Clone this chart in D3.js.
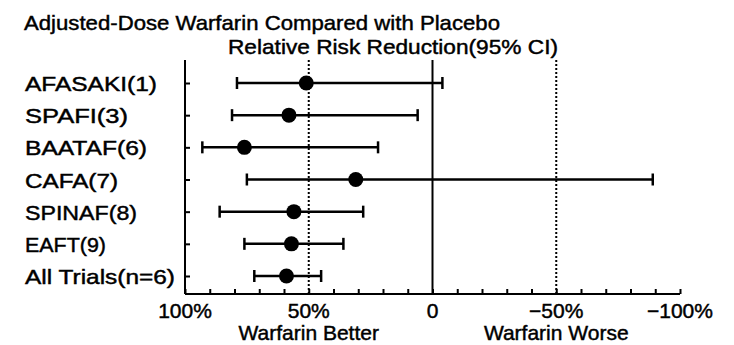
<!DOCTYPE html>
<html>
<head>
<meta charset="utf-8">
<script src="https://cdn.jsdelivr.net/npm/d3@7"></script>
<style>
  html, body { margin: 0; padding: 0; background: #fff; }
  svg { display: block; }
  text { font-family: "Liberation Sans", Arial, Helvetica, sans-serif; fill: #000; stroke: #000; stroke-width: 0.45px; }
</style>
</head>
<body>
<svg id="chart" width="734" height="345"></svg>
<script>
// ---- data ----
const trials   = ["AFASAKI(1)", "SPAFI(3)", "BAATAF(6)", "CAFA(7)", "SPINAF(8)", "EAFT(9)", "All Trials(n=6)"];
const rrr      = [51, 58, 76, 31, 56, 57, 59];      // relative risk reduction, %
const ciLow    = [79, 81, 93, 75, 86, 76, 72];      // favourable end of 95% CI
const ciHigh   = [-4, 6, 22, -89, 28, 36, 45];      // unfavourable end of 95% CI
const tickVals = [100, 50, 0, -50, -100];
const tickText = ["100%", "50%", "0", "\u221250%", "\u2212100%"];
const labelWidths = [132, 103, 122, 93, 112, 81, 150];

const title = "Adjusted-Dose Warfarin Compared with Placebo";
const subtitle = "Relative Risk Reduction(95% CI)";
const sideLabels = ["Warfarin Better", "Warfarin Worse"];
const sideAt = [50, -50];

// ---- layout ----
const svg = d3.select("#chart");
const plotTop = 60, plotBottom = 294;
const x = d3.scaleLinear().domain([100, -100]).range([185, 680]);
const y = d3.scalePoint().domain(trials).range([83, 276]);

svg.append("rect").attr("width", 734).attr("height", 345).attr("fill", "#fff");

// titles
svg.append("text").attr("x", 24).attr("y", 30).attr("font-size", 21)
  .attr("textLength", 476).attr("lengthAdjust", "spacingAndGlyphs").text(title);
svg.append("text").attr("x", 228).attr("y", 54).attr("font-size", 21)
  .attr("textLength", 330).attr("lengthAdjust", "spacingAndGlyphs").text(subtitle);

// reference lines
svg.selectAll("line.dot").data(sideAt).enter().append("line")
  .attr("x1", d => x(d)).attr("x2", d => x(d))
  .attr("y1", plotTop).attr("y2", plotBottom)
  .attr("stroke", "#000").attr("stroke-width", 2).attr("stroke-dasharray", "2,2");
svg.append("line").attr("x1", x(0)).attr("x2", x(0)).attr("y1", plotTop).attr("y2", plotBottom)
  .attr("stroke", "#000").attr("stroke-width", 2);

// axes
const xAxis = d3.axisBottom(x).tickValues(d3.range(100, -101, -10)).tickSize(-5).tickFormat("");
const gx = svg.append("g").attr("transform", `translate(0,${plotBottom})`).call(xAxis);
gx.select(".domain").attr("stroke-width", 2).attr("d", `M${x(100)},0H${x(-100)}`);
gx.selectAll(".tick line").attr("stroke-width", 2);

const yAxis = d3.axisLeft(y).tickSize(-5).tickFormat("");
const gy = svg.append("g").attr("transform", `translate(${x(100)},0)`).call(yAxis);
gy.select(".domain").attr("stroke-width", 2).attr("d", `M0,${plotTop}V${plotBottom}`);
gy.selectAll(".tick line").attr("stroke-width", 2);

// tick labels
svg.selectAll("text.tl").data(tickVals).enter().append("text")
  .attr("x", d => x(d)).attr("y", 318).attr("text-anchor", "middle").attr("font-size", 21)
  .text((d, i) => tickText[i]);

// side labels
svg.selectAll("text.sl").data(sideAt).enter().append("text")
  .attr("x", d => x(d)).attr("y", 340).attr("text-anchor", "middle").attr("font-size", 21)
  .text((d, i) => sideLabels[i]);

// row labels
svg.selectAll("text.rl").data(trials).enter().append("text")
  .attr("x", 25).attr("y", d => y(d) + 8).attr("font-size", 21)
  .attr("textLength", (d, i) => labelWidths[i]).attr("lengthAdjust", "spacingAndGlyphs")
  .text(d => d);

// whiskers
const rows = svg.selectAll("g.row").data(trials).enter().append("g");
rows.append("line")
  .attr("x1", (d, i) => x(ciLow[i])).attr("x2", (d, i) => x(ciHigh[i]))
  .attr("y1", d => y(d)).attr("y2", d => y(d))
  .attr("stroke", "#000").attr("stroke-width", 2.5);
rows.append("line")
  .attr("x1", (d, i) => x(ciLow[i])).attr("x2", (d, i) => x(ciLow[i]))
  .attr("y1", d => y(d) - 6).attr("y2", d => y(d) + 6)
  .attr("stroke", "#000").attr("stroke-width", 2.5);
rows.append("line")
  .attr("x1", (d, i) => x(ciHigh[i])).attr("x2", (d, i) => x(ciHigh[i]))
  .attr("y1", d => y(d) - 6).attr("y2", d => y(d) + 6)
  .attr("stroke", "#000").attr("stroke-width", 2.5);
rows.append("circle")
  .attr("cx", (d, i) => x(rrr[i])).attr("cy", d => y(d)).attr("r", 7.5)
  .attr("fill", "#000");
</script>
</body>
</html>
